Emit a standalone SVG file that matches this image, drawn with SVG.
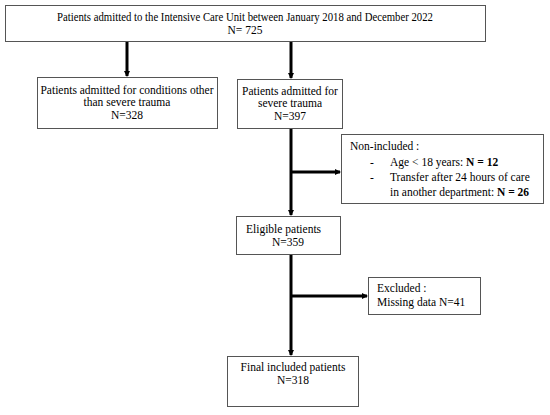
<svg xmlns="http://www.w3.org/2000/svg" width="550" height="415" viewBox="0 0 550 415">
<defs>
<style>
.box{fill:#fff;stroke:#555;stroke-width:1}
.t{font-family:"Liberation Serif","Times New Roman",serif;font-size:11.5px;fill:#000}
.c{text-anchor:middle}
.b{font-weight:bold}
.ln{stroke:#000;stroke-width:3;fill:none}
</style>
<marker id="ah" viewBox="0 0 6 6" refX="5" refY="3" markerWidth="2" markerHeight="2" orient="auto" markerUnits="strokeWidth">
<path d="M0,0 L6,3 L0,6 z" fill="#000"/>
</marker>
</defs>
<rect width="550" height="415" fill="#fff"/>
<g id="connectors">
<line class="ln" x1="127" y1="42" x2="127" y2="76" marker-end="url(#ah)"/>
<line class="ln" x1="291" y1="42" x2="291" y2="78" marker-end="url(#ah)"/>
<line class="ln" x1="291" y1="129" x2="291" y2="215" marker-end="url(#ah)"/>
<line class="ln" x1="291" y1="172" x2="340" y2="172" marker-end="url(#ah)"/>
<line class="ln" x1="291" y1="255" x2="291" y2="355" marker-end="url(#ah)"/>
<line class="ln" x1="291" y1="296" x2="367" y2="296" marker-end="url(#ah)"/>
</g>
<g id="top">
<rect class="box" x="5.5" y="5.5" width="480" height="36"/>
<text class="t c" x="245" y="21" textLength="376" lengthAdjust="spacingAndGlyphs">Patients admitted to the Intensive Care Unit between January 2018 and December 2022</text>
<text class="t c" x="245" y="34">N= 725</text>
</g>
<g id="other">
<rect class="box" x="37.5" y="77.5" width="180" height="51"/>
<text class="t c" x="127" y="94">Patients admitted for conditions other</text>
<text class="t c" x="127" y="106">than severe trauma</text>
<text class="t c" x="127" y="119">N=328</text>
</g>
<g id="trauma">
<rect class="box" x="237.5" y="79.5" width="105" height="49"/>
<text class="t c" x="290" y="95">Patients admitted for</text>
<text class="t c" x="290" y="107">severe trauma</text>
<text class="t c" x="290" y="120">N=397</text>
</g>
<g id="noninc">
<rect class="box" x="341.5" y="134.5" width="202" height="69"/>
<text class="t" x="350" y="150">Non-included :</text>
<text class="t" x="370" y="166">-</text>
<text class="t" x="390" y="166">Age &lt; 18 years: <tspan class="b">N = 12</tspan></text>
<text class="t" x="370" y="181">-</text>
<text class="t" x="390" y="181">Transfer after 24 hours of care</text>
<text class="t" x="390" y="196">in another department: <tspan class="b">N = 26</tspan></text>
</g>
<g id="eligible">
<rect class="box" x="236.5" y="216.5" width="104" height="38"/>
<text class="t" x="246" y="233">Eligible patients</text>
<text class="t" x="272" y="246">N=359</text>
</g>
<g id="excluded">
<rect class="box" x="368.5" y="277.5" width="112" height="37"/>
<text class="t" x="377" y="292">Excluded :</text>
<text class="t" x="377" y="306">Missing data N=41</text>
</g>
<g id="final">
<rect class="box" x="227.5" y="356.5" width="131" height="50"/>
<text class="t c" x="293" y="371">Final included patients</text>
<text class="t c" x="293" y="384">N=318</text>
</g>
</svg>
